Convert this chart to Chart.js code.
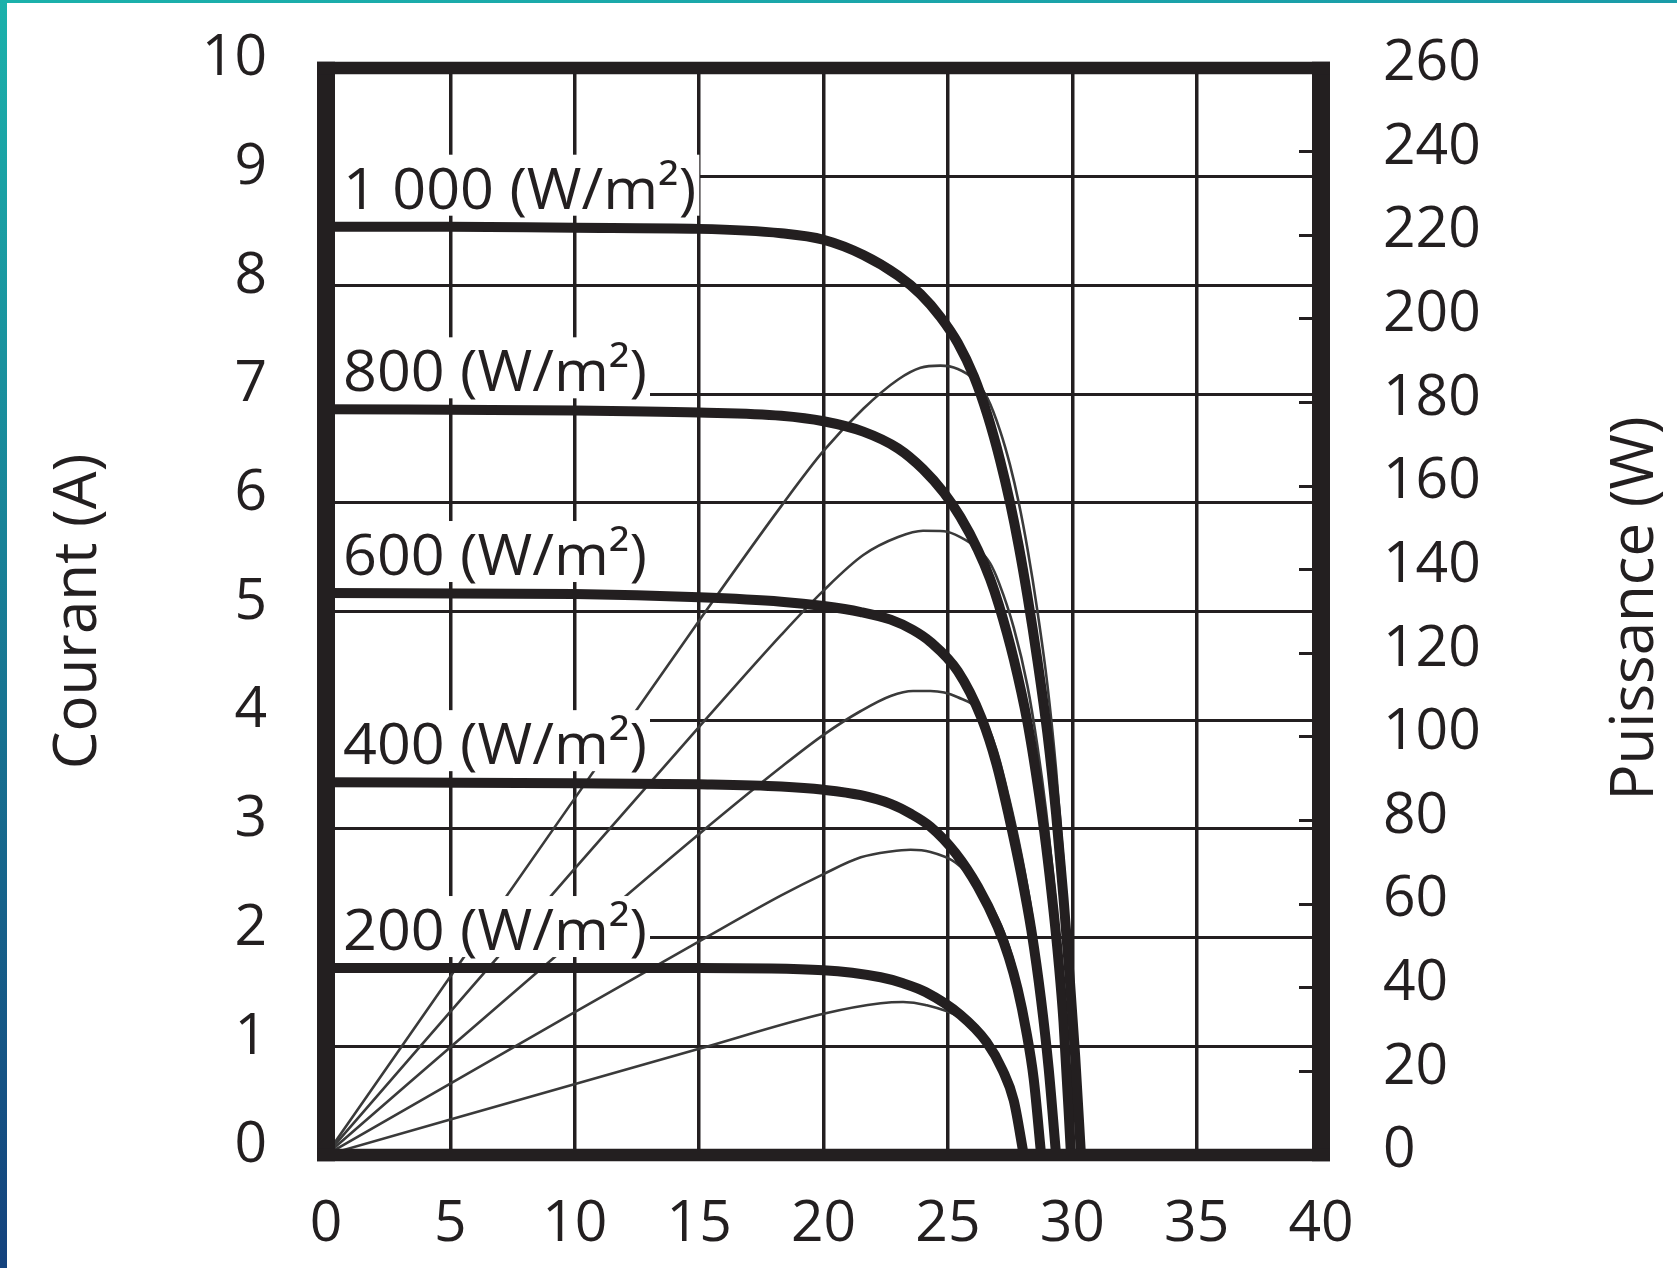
<!DOCTYPE html>
<html>
<head>
<meta charset="utf-8">
<script src="https://cdn.jsdelivr.net/npm/chart.js@4.4.1/dist/chart.umd.min.js"></script>
<style>
  html, body { margin: 0; padding: 0; background: #fff; }
  body { width: 1677px; height: 1268px; position: relative; overflow: hidden; }
  #c { position: absolute; left: 0; top: 0; }
  #topStrip { position: absolute; left: 0; top: 0; width: 1677px; height: 3px;
    background: linear-gradient(to right, #1bb1ab, #1a9ba8); }
  #leftStrip { position: absolute; left: 0; top: 0; width: 7px; height: 1268px;
    background: linear-gradient(to bottom, #1bb1ab, #14427d); }
</style>
</head>
<body>
<canvas id="c" width="1677" height="1268"></canvas>
<div id="topStrip"></div>
<div id="leftStrip"></div>
<script>
// ---- Data ----
// Voltage (V) sample points, current (A) and power (W) per irradiance level
const v1000 = [0, 5, 10, 15, 18.3, 20, 21.6, 23, 23.9, 24.7, 25.4, 26.05, 26.6, 27.1, 27.5, 27.85, 28.2, 28.6, 29.0, 29.35, 29.65, 29.9, 30.12, 30.35];
const i1000 = [8.54, 8.54, 8.53, 8.52, 8.48, 8.42, 8.28, 8.09, 7.92, 7.71, 7.47, 7.16, 6.8, 6.39, 6.0, 5.6, 5.14, 4.55, 3.88, 3.14, 2.36, 1.62, 0.9, 0];
const p1000 = [0, 42.7, 85.3, 127.8, 155.2, 168.4, 178.5, 185.5, 188.3, 188.8, 188, 185.5, 180.9, 173.2, 165, 156, 145, 130.1, 112.5, 92.2, 70, 48.4, 27.1, 0];

const v800 = [0, 10, 15, 18.3, 20, 21.6, 23, 24, 24.85, 25.5, 26.2, 26.7, 27.05, 27.65, 28.2, 28.6, 28.95, 29.25, 29.45, 29.65, 29.95];
const i800 = [6.86, 6.85, 6.83, 6.80, 6.75, 6.655, 6.5, 6.31, 6.09, 5.87, 5.57, 5.3, 5.06, 4.56, 3.98, 3.42, 2.84, 2.24, 1.78, 1.22, 0];
const p800 = [0, 68.5, 102.4, 124.4, 135, 143.5, 147.8, 149.3, 149.2, 147.8, 145, 141.5, 136.9, 126.1, 112.2, 97.8, 82.2, 65.5, 52.4, 36.2, 0];

const v600 = [0, 10, 15, 18.3, 20, 21.5, 22.7, 23.6, 24.3, 25.4, 26.35, 26.95, 27.45, 27.95, 28.36, 28.75, 29.05, 29.35];
const i600 = [5.17, 5.16, 5.13, 5.09, 5.05, 4.995, 4.925, 4.83, 4.72, 4.45, 4.02, 3.6, 3.12, 2.58, 2.06, 1.42, 0.8, 0];
const p600 = [0, 51.5, 76.8, 92.8, 100.5, 106.2, 109.8, 111, 111, 109.5, 105.5, 97, 85.6, 72.1, 58.4, 40.8, 23.2, 0];

const v400 = [0, 10, 15, 18.3, 20, 21.5, 22.7, 23.5, 24.3, 25.3, 26.2, 27.0, 27.45, 27.8, 28.15, 28.45, 28.75];
const i400 = [3.43, 3.42, 3.41, 3.39, 3.36, 3.31, 3.23, 3.14, 3.02, 2.78, 2.47, 2.1, 1.82, 1.53, 1.14, 0.7, 0];
const p400 = [0, 34.2, 51.1, 62.1, 67.2, 71.2, 72.6, 73, 72.5, 70, 64.5, 56.7, 50, 42.5, 32.1, 19.9, 0];

const v200 = [0, 15, 20, 22.3, 23.2, 24.1, 25.5, 26.55, 27.2, 27.65, 28.05];
const i200 = [1.72, 1.72, 1.70, 1.635, 1.58, 1.5, 1.29, 1.04, 0.78, 0.5, 0];
const p200 = [0, 25.4, 33.8, 36.3, 36.6, 35.9, 32.9, 27.6, 21.2, 13.8, 0];

const irradianceLabels = ['1 000 (W/m²)', '800 (W/m²)', '600 (W/m²)', '400 (W/m²)', '200 (W/m²)'];
const xTicks = { min: 0, max: 40, step: 5 };
const yTicks = { min: 0, max: 10, step: 1 };
const y2Ticks = { min: 0, max: 260, step: 20 };
const yTitle = 'Courant (A)';
const y2Title = 'Puissance (W)';

// ---- Styling ----
const INK = '#231f20';
const FONT = '"Open Sans", "Noto Sans", sans-serif';

function pts(v, arr) { return v.map((x, k) => ({ x: x, y: arr[k] })); }

const ivSets = [[v1000, i1000], [v800, i800], [v600, i600], [v400, i400], [v200, i200]];
const pvSets = [[v1000, p1000], [v800, p800], [v600, p600], [v400, p400], [v200, p200]];

const datasets = [];
ivSets.forEach(([v, a], k) => datasets.push({
  label: 'I ' + irradianceLabels[k], data: pts(v, a), yAxisID: 'y',
  borderColor: INK, borderWidth: 10, pointRadius: 0, fill: false,
  cubicInterpolationMode: 'monotone', borderJoinStyle: 'round', clip: 0
}));
pvSets.forEach(([v, a], k) => datasets.push({
  label: 'P ' + irradianceLabels[k], data: pts(v, a), yAxisID: 'y2',
  borderColor: '#3a3a3a', borderWidth: 2.6, pointRadius: 0, fill: false,
  cubicInterpolationMode: 'monotone', borderJoinStyle: 'round', clip: 0
}));

function noPad(s) { s.paddingTop = 0; s.paddingBottom = 0; s.paddingLeft = 0; s.paddingRight = 0; }

const SX = 1.04;
const decor = {
  id: 'decor',
  afterDatasetsDraw(chart) {
    const { ctx, chartArea } = chart;
    const y = chart.scales.y;
    ctx.save();
    ctx.font = '400 57px ' + FONT;
    ctx.textAlign = 'left';
    ctx.textBaseline = 'alphabetic';
    irradianceLabels.forEach((txt, k) => {
      const isc = ivSets[k][1][0];
      const base = y.getPixelForValue(isc) - 18;
      const tx = chartArea.left + 17;
      const w = ctx.measureText(txt).width * SX;
      const bx = chartArea.left + 9;
      ctx.fillStyle = '#ffffff';
      ctx.fillRect(bx, base - 54, tx + w + 3 - bx, 61);
      ctx.fillStyle = INK;
      ctx.save();
      ctx.translate(tx, base);
      ctx.scale(SX, 1);
      ctx.fillText(txt, 0, 0);
      ctx.restore();
    });
    ctx.restore();
  },
  afterDraw(chart) {
    const { ctx, chartArea: ca } = chart;
    ctx.save();
    ctx.fillStyle = INK;
    const hv = 9, hh = 6.25;
    ctx.fillRect(ca.left - hv, ca.top - hh, 2 * hv, ca.bottom - ca.top + 2 * hh);
    ctx.fillRect(ca.right - hv, ca.top - hh, 2 * hv, ca.bottom - ca.top + 2 * hh);
    ctx.fillRect(ca.left - hv, ca.top - hh, ca.right - ca.left + 2 * hv, 2 * hh);
    ctx.fillRect(ca.left - hv, ca.bottom - hh, ca.right - ca.left + 2 * hv, 2 * hh);
    // right axis title, reading bottom-to-top
    ctx.font = '400 60px ' + FONT;
    ctx.textAlign = 'center';
    ctx.textBaseline = 'middle';
    ctx.translate(1636, (ca.top + ca.bottom) / 2 - 3);
    ctx.rotate(-Math.PI / 2);
    ctx.fillText(y2Title, 0, 0);
    ctx.restore();
  }
};

new Chart(document.getElementById('c'), {
  type: 'line',
  data: { datasets },
  plugins: [decor],
  options: {
    responsive: false,
    animation: false,
    devicePixelRatio: 1,
    events: [],
    layout: { padding: { left: 0, right: 0, top: 68, bottom: 0 } },
    plugins: { legend: { display: false }, tooltip: { enabled: false } },
    scales: {
      x: {
        type: 'linear', position: 'bottom', min: xTicks.min, max: xTicks.max,
        ticks: { stepSize: xTicks.step, color: INK, padding: 36, font: { family: FONT, size: 57 } },
        grid: { color: INK, lineWidth: 3.5, drawTicks: false },
        border: { display: false },
        afterFit: (s) => { s.height = 113; noPad(s); }
      },
      y: {
        type: 'linear', position: 'left', min: yTicks.min, max: yTicks.max,
        ticks: { stepSize: yTicks.step, color: INK, padding: 59, labelOffset: -9, font: { family: FONT, size: 57 } },
        grid: { color: INK, lineWidth: 3, drawTicks: false },
        border: { display: false },
        title: { display: true, text: yTitle, color: INK, font: { family: FONT, size: 60 }, padding: { top: 43, bottom: 0 } },
        afterFit: (s) => { s.width = 326; noPad(s); }
      },
      y2: {
        type: 'linear', position: 'right', min: y2Ticks.min, max: y2Ticks.max,
        ticks: { stepSize: y2Ticks.step, color: INK, padding: 84, labelOffset: -4, font: { family: FONT, size: 57 } },
        grid: { drawOnChartArea: false, drawTicks: true, tickLength: -22, tickWidth: 3, tickColor: INK, color: INK },
        border: { display: false },
        afterFit: (s) => { s.width = 356; noPad(s); }
      }
    }
  }
});
</script>
</body>
</html>
